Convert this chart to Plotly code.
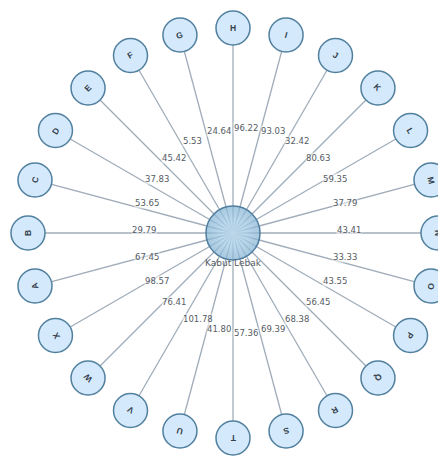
import math
import plotly.graph_objects as go

# ---- data ----
center_label = "Kabut Lebak"
node_labels = ["A", "B", "C", "D", "E", "F", "G", "H", "I", "J", "K", "L",
               "M", "N", "O", "P", "Q", "R", "S", "T", "U", "V", "W", "X"]
edge_values = [67.45, 29.79, 53.65, 37.83, 45.42, 5.53, 24.64, 96.22, 93.03, 32.42,
               80.63, 59.35, 37.79, 43.41, 33.33, 43.55, 56.45, 68.38, 69.39, 57.36,
               41.80, 101.78, 76.41, 98.57]

# ---- layout (radial) ----
PAGE_OFF = 8               # default body margin of the page
W, H = 446 - PAGE_OFF, 456 - PAGE_OFF
CX, CY = 233 - PAGE_OFF, 233 - PAGE_OFF   # hub position inside the figure
R = 205                    # radius of ring
top_index = node_labels.index("H")
n = len(node_labels)
step = 360.0 / n

angles = [(i - top_index) * step for i in range(n)]  # clockwise from top
xs = [R * math.sin(math.radians(a)) for a in angles]
ys = [R * math.cos(math.radians(a)) for a in angles]

fig = go.Figure()

# edges
ex, ey = [], []
for x, y in zip(xs, ys):
    ex += [0, x, None]
    ey += [0, y, None]
fig.add_trace(go.Scatter(x=ex, y=ey, mode="lines",
                         line=dict(color="#a0adb9", width=1.3),
                         hoverinfo="skip", showlegend=False))

# outer nodes
fig.add_trace(go.Scatter(x=xs, y=ys, mode="markers",
                         marker=dict(size=34, color="#d4eafc",
                                     line=dict(color="#52809f", width=1.5)),
                         text=node_labels, hoverinfo="text", showlegend=False))

# hub
fig.add_trace(go.Scatter(x=[0], y=[0], mode="markers",
                         marker=dict(size=54, color="rgba(130,178,210,0.7)",
                                     gradient=dict(type="radial", color="rgba(200,228,248,0.8)"),
                                     line=dict(color="#4f7d9f", width=1.5)),
                         hoverinfo="skip", showlegend=False))

annotations = []
# node letters (rotated outward)
for lab, x, y, a in zip(node_labels, xs, ys, angles):
    annotations.append(dict(x=x, y=y, text=f"<b>{lab}</b>", showarrow=False, textangle=a,
                            font=dict(family="Liberation Sans", size=8.5, color="#34404c"),
                            xanchor="center", yanchor="middle"))
# edge value labels at edge midpoints
for v, x, y in zip(edge_values, xs, ys):
    annotations.append(dict(x=x / 2, y=y / 2, text=f"{v:.2f}", showarrow=False,
                            font=dict(family="DejaVu Sans", size=8.5, color="#555b63"),
                            xanchor="left", yanchor="middle", yshift=3,
                            bgcolor="rgba(255,255,255,0.5)", borderpad=0))
# hub label
annotations.append(dict(x=0, y=0, text=center_label, showarrow=False, yshift=-30,
                        font=dict(family="DejaVu Sans", size=9, color="#555b63"),
                        xanchor="center", yanchor="middle"))

fig.update_layout(
    width=W, height=H, autosize=False,
    margin=dict(l=0, r=0, t=0, b=0),
    paper_bgcolor="white", plot_bgcolor="white",
    xaxis=dict(range=[-CX, W - CX], visible=False, fixedrange=True),
    yaxis=dict(range=[-(H - CY), CY], visible=False, fixedrange=True),
    annotations=annotations,
    showlegend=False,
)

fig.write_html("out.html")
